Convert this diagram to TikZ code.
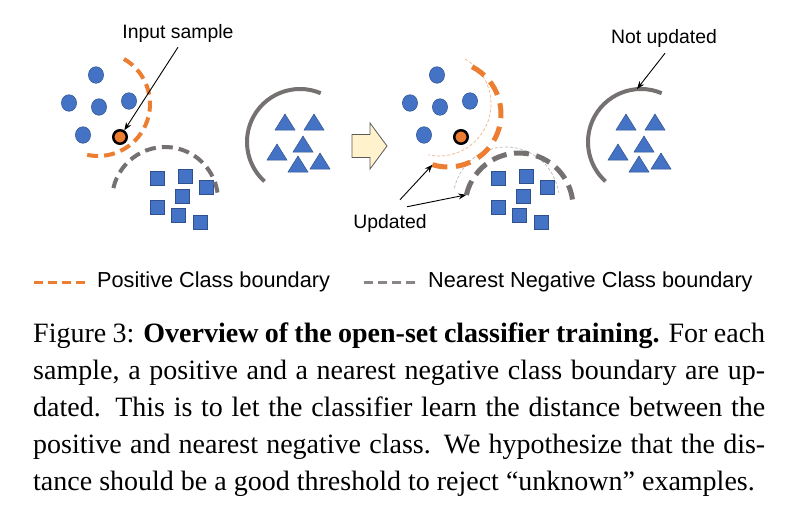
\documentclass[tikz,border=0pt]{standalone}
\usepackage{fontspec}
\setmainfont{Liberation Serif}
\newfontfamily\lblfont{Liberation Sans}
\usepackage{xcolor}
\usepackage{tikz}
\usetikzlibrary{arrows.meta}

\definecolor{dotblue}{RGB}{68,114,196}
\definecolor{dotedge}{RGB}{47,82,143}
\definecolor{posorange}{RGB}{237,125,49}
\definecolor{neggray}{RGB}{118,113,113}
\definecolor{arrowfill}{RGB}{255,242,204}

\begin{document}
\begin{tikzpicture}[x=1pt, y=-1pt,
        dot/.style = {fill=dotblue, draw=dotedge, line width=0.5pt},
        sample/.style = {circle, fill=posorange, draw=black, line width=2.5pt, minimum size=13.5pt, inner sep=0pt},
        posline/.style = {color=posorange, line width=4pt, dash pattern=on 11pt off 6pt},
        negline/.style = {color=neggray, line width=4pt, dash pattern=on 11pt off 6pt},
        negsolid/.style = {color=neggray, line width=4pt},
        oldline/.style = {line width=0.7pt, dash pattern=on 3pt off 2pt},
        lbl/.style = {font=\lblfont\fontsize{19.4}{23}\selectfont, inner sep=0pt},
        lgd/.style = {font=\lblfont\fontsize{21.7}{26}\selectfont, inner sep=0pt},
        lblarrow/.style = {-{Stealth[length=8pt, width=6pt]}, line width=0.9pt}]

        \useasboundingbox (0,0) rectangle (788,520);

        % the three classes, before (left) and after (right) the update
        \foreach \dx in {0, 341} {
            \foreach \px/\py in {96/75, 69/103, 99/107, 129/101, 83/135}
                \filldraw[dot] (\px+\dx, \py) ellipse[x radius=7.6pt, y radius=8.3pt];
            \foreach \px/\py in {157/178, 185/176, 206/187, 182/196, 157/207, 178/215, 200/222}
                \filldraw[dot] (\px+\dx-7.25, \py-7.25) rectangle ++(14.5, 14.5);
            \foreach \px/\pb in {285/130, 314/130, 277/160, 303/152, 298/172, 320/169}
                \filldraw[dot] (\px+\dx-10, \pb) -- (\px+\dx, \pb-16) -- (\px+\dx+10, \pb) -- cycle;
            \draw[negsolid] (300+\dx, 142) ++(-67:53) arc (-67:-228:53);
        }
        \coordinate (notend) at (637, 89);

        % left: boundaries before the update
        \draw[posline] (98, 104) ++(-60:52) arc (-60:102:52);
        \draw[negline] (165, 200) ++(-167:53) arc (-167:-8:53);
        \node[sample] (insamp) at (120, 137) {};

        % right: old boundaries and updated ones
        \draw[oldline, posorange!60] (439, 104) ++(-60:52) arc (-60:102:52);
        \draw[oldline, neggray!50] (506, 200) ++(-167:53) arc (-167:-8:53);
        \draw[posline, line width=5pt, dash pattern=on 15pt off 8.7pt] (448, 114) ++(-63:53) arc (-63:107:53) coordinate (posend);
        \draw[negline, line width=5pt, dash pattern=on 15pt off 7.5pt] (519, 207) ++(-167:54) coordinate (negstart) arc (-167:-8:54);
        \node[sample] (outsamp) at (461, 137) {};

        % step arrow
        \filldraw[fill=arrowfill, draw=black!65, line width=0.8pt] (352, 134.5) -- (370, 134.5) -- (370, 123) -- (387, 146)
            -- (370, 169) -- (370, 157.5) -- (352, 157.5) -- cycle;

        % labels
        \node[lbl, anchor=base] (inlbl) at (178, 38) {Input sample};
        \node[lbl, anchor=base] (notlbl) at (664, 43) {Not updated};
        \node[lbl, anchor=base] (updlbl) at (390, 228) {Updated};
        \draw[lblarrow] ([shift={(0,5)}]inlbl.south) -- (insamp);
        \draw[lblarrow] ([shift={(1,6)}]notlbl.south) -- (notend);
        \draw[lblarrow] ([shift={(10,-14)}]updlbl.north) -- (posend);
        \draw[lblarrow] ([shift={(17,-7)}]updlbl.north) -- (negstart);

        % legend
        \node[lgd, anchor=base west] (poslgd) at (97, 287.5) {Positive Class boundary};
        \node[lgd, anchor=base west] (neglgd) at (428, 287.5) {Nearest Negative Class boundary};
        \draw[posorange, line width=3pt, dash pattern=on 9pt off 5pt] ([shift={(-12,1)}]poslgd.west) -- ++(-53, 0);
        \draw[neggray!85, line width=3pt, dash pattern=on 9pt off 5pt] ([shift={(-13,1)}]neglgd.west) -- ++(-52, 0);

        % caption
        \node[anchor=north west, inner sep=0pt, text width=732pt, align=justify, font=\fontsize{28}{37}\selectfont] (caption) at (33, 322.5)
            {Figure 3: \textbf{Overview of the open-set classifier training.} For each\linebreak
            sample, a positive and a nearest negative class boundary are up-\linebreak
            dated.  This is to let the classifier learn the distance between the\linebreak
            positive and nearest negative class.  We hypothesize that the dis-\linebreak
            tance should be a good threshold to reject ``unknown'' examples.};
    \end{tikzpicture}
\end{document}
